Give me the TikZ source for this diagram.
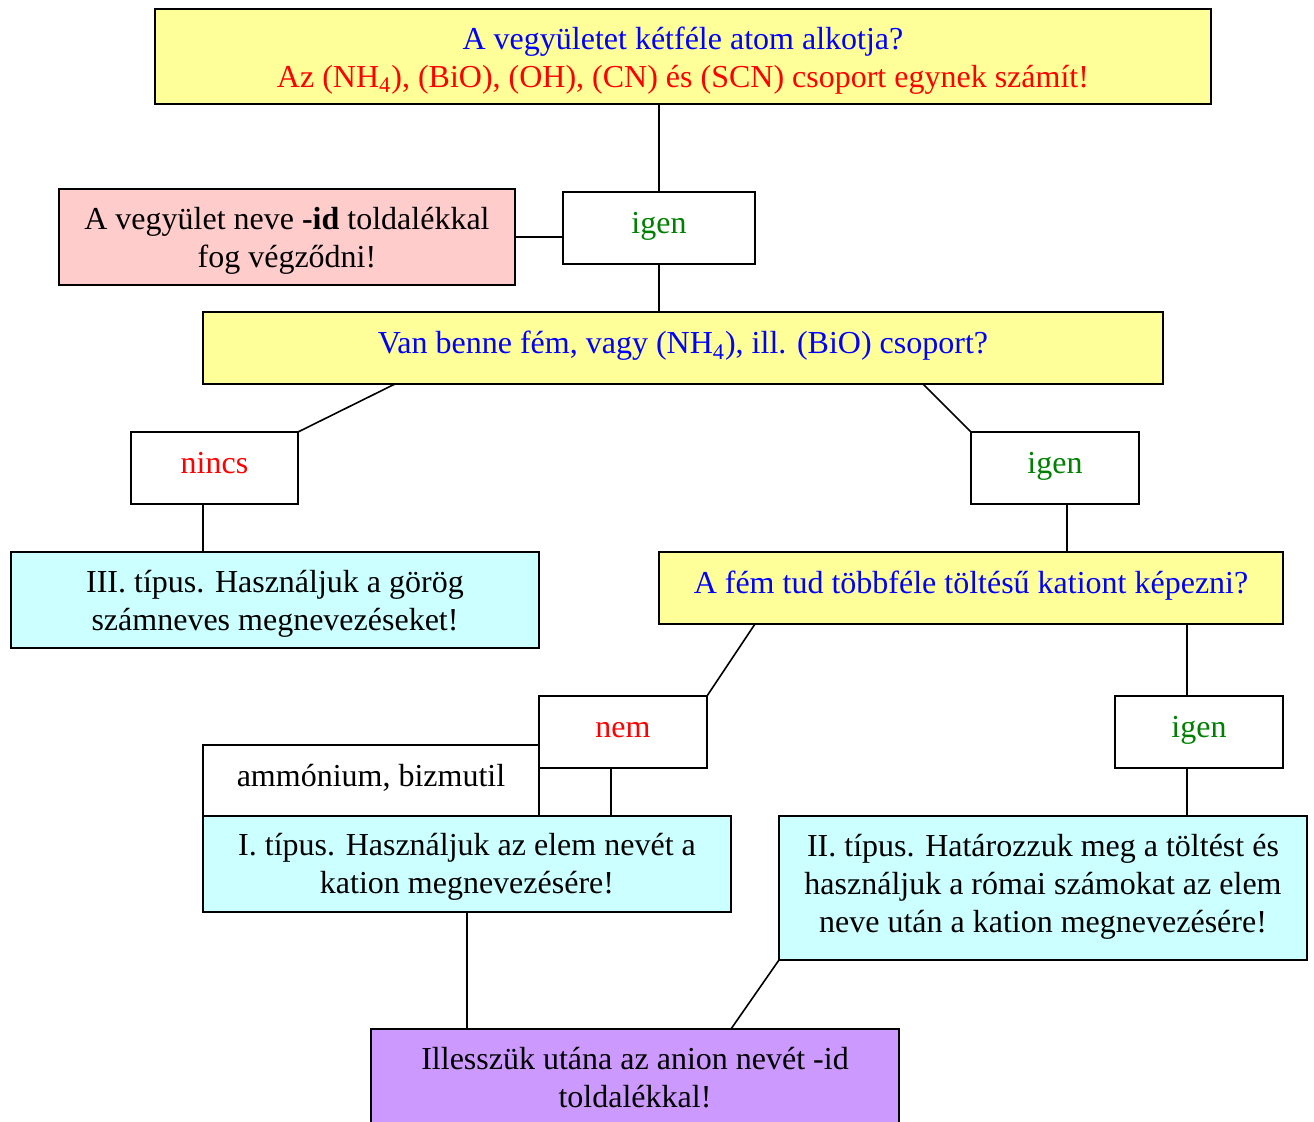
\documentclass[tikz,border=0pt]{standalone}
\usepackage{fontspec}
\setmainfont{Liberation Serif}
\usetikzlibrary{calc}
\definecolor{qyellow}{HTML}{FFFF99}
\definecolor{qpink}{HTML}{FFCCCC}
\definecolor{qcyan}{HTML}{CCFFFF}
\definecolor{qpurple}{HTML}{CC99FF}
\definecolor{qblue}{HTML}{0000FF}
\definecolor{qred}{HTML}{FF0000}
\definecolor{qgreen}{HTML}{008000}
\tikzset{
  box/.style={draw=black, line width=1pt, inner sep=0pt, outer sep=0pt},
  txt/.style={inner sep=0pt, align=center, font=\fontsize{16}{19}\selectfont},
  conn/.style={draw=black, line width=0.8pt},
}
% name, x1,y1,x2,y2, fill, text colour, yshift, text
\newcommand{\bx}[9]{%
  \node[box,fill=#6, minimum width={(#4-#2)*0.5pt}, minimum height={(#5-#3)*0.5pt}]
    (#1) at ({(#2+#4)/2},{(#3+#5)/2}) {};
  \node[txt,text=#7,yshift=#8] (#1t) at (#1.center) {#9};}
\begin{document}
\begin{tikzpicture}[x=0.5pt,y=-0.5pt]
\useasboundingbox[fill=white] (0,0) rectangle (1314,1122);
\bx{top}{155}{9}{1211}{104}{qyellow}{black}{-2pt}{\textcolor{qblue}{A vegyületet kétféle atom alkotja?}\\
  \textcolor{qred}{Az (NH\textsubscript{4}), (BiO), (OH), (CN) és (SCN) csoport egynek számít!}}
\bx{pink}{59}{189}{515}{285}{qpink}{black}{-2pt}{A vegyület neve \textbf{-id} toldalékkal\\fog végződni!}
\bx{igenA}{563}{192}{755}{264}{white}{qgreen}{0.8pt}{\strut igen}
\bx{q2}{203}{312}{1163}{384}{qyellow}{qblue}{0.8pt}{\strut Van benne fém, vagy (NH\textsubscript{4}), ill. (BiO) csoport?}
\bx{nincs}{131}{432}{298}{504}{white}{qred}{0.8pt}{\strut nincs}
\bx{igenB}{971}{432}{1139}{504}{white}{qgreen}{0.8pt}{\strut igen}
\bx{c3}{11}{552}{539}{648}{qcyan}{black}{-2pt}{III. típus. Használjuk a görög\\számneves megnevezéseket!}
\bx{q3}{659}{552}{1283}{624}{qyellow}{qblue}{0.8pt}{\strut A fém tud többféle töltésű kationt képezni?}
\bx{nem}{539}{696}{707}{768}{white}{qred}{0.8pt}{\strut nem}
\bx{igenC}{1115}{696}{1283}{768}{white}{qgreen}{0.8pt}{\strut igen}
\bx{ammo}{203}{745}{539}{816}{white}{black}{0.8pt}{\strut ammónium, bizmutil}
\bx{c1}{203}{816}{731}{912}{qcyan}{black}{-1.6pt}{I. típus. Használjuk az elem nevét a\\kation megnevezésére!}
\bx{c2}{779}{816}{1307}{960}{qcyan}{black}{0.5pt}{II. típus. Határozzuk meg a töltést és\\használjuk a római számokat az elem\\neve után a kation megnevezésére!}
\bx{purple}{371}{1029}{899}{1125}{qpurple}{black}{-0.5pt}{Illesszük utána az anion nevét -id\\toldalékkal!}
% connector anchor points
\path ($(q2.south west)+(192,0)$) coordinate (q2a)
      ($(q2.south west)+(720,0)$) coordinate (q2b)
      ($(nincs.south west)+(72,0)$) coordinate (nia)
      ($(igenB.south west)+(96,0)$) coordinate (iba)
      ($(q3.south west)+(96,0)$) coordinate (q3a)
      ($(q3.south west)+(528,0)$) coordinate (q3b)
      ($(nem.south west)+(72,0)$) coordinate (nea)
      ($(igenC.south west)+(72,0)$) coordinate (ica)
      ($(purple.north west)+(360,0)$) coordinate (pua);
% connectors
\draw[conn] (igenA.north |- top.south) -- (igenA.north);
\draw[conn] (pink.east) -- (pink.east -| igenA.west);
\draw[conn] (igenA.south) -- (igenA.south |- q2.north);
\draw[conn] (q2a) -- (nincs.north east);
\draw[conn] (q2b) -- (igenB.north west);
\draw[conn] (nia) -- (nia |- c3.north);
\draw[conn] (iba) -- (iba |- q3.north);
\draw[conn] (q3a) -- (nem.north east);
\draw[conn] (q3b) -- (q3b |- igenC.north);
\draw[conn] (nea) -- (nea |- c1.north);
\draw[conn] (ica) -- (ica |- c2.north);
\draw[conn] (c1.south) -- (c1.south |- purple.north);
\draw[conn] (c2.south west) -- (pua);
\end{tikzpicture}
\end{document}
